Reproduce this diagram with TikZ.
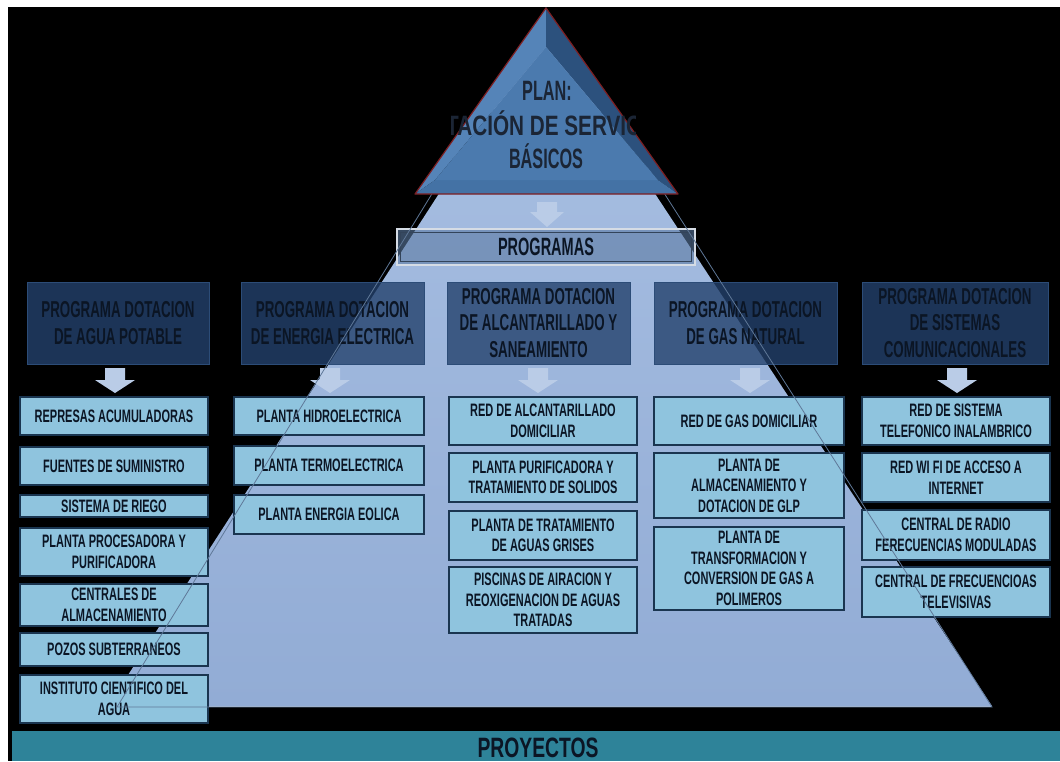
\documentclass[tikz,border=0pt]{standalone}
\usepackage{fontspec}
\newfontfamily\itemfont[FakeStretch=0.61]{Liberation Sans}
\newfontfamily\hdrfont[FakeStretch=0.58]{Liberation Sans}
\newfontfamily\widefont[FakeStretch=0.74]{Liberation Sans}
\newfontfamily\barfont[FakeStretch=0.69]{Liberation Sans}
\definecolor{pyrtop}{HTML}{A9C0E3}
\definecolor{pyrbot}{HTML}{92ACD5}
\definecolor{itemfill}{HTML}{8FC4DE}
\definecolor{itemline}{HTML}{1A3550}
\definecolor{hdrfill}{HTML}{24426D}
\definecolor{hdrline}{HTML}{2C4C77}
\definecolor{arrowfill}{HTML}{BACCE7}
\definecolor{ghost}{HTML}{5F7898}
\definecolor{barfill}{HTML}{2E8399}
\definecolor{txt}{HTML}{0B1524}
\definecolor{tritxt}{HTML}{1B2535}
\definecolor{leftbev}{HTML}{5584B8}
\definecolor{rightbev}{HTML}{2C517D}
\definecolor{botbev}{HTML}{4472A5}
\definecolor{face}{HTML}{4B7AAE}
\definecolor{redline}{HTML}{7D1F22}
\definecolor{progfill}{HTML}{5B7AA3}
\definecolor{progouter}{HTML}{D5DCE5}
\definecolor{proginner}{HTML}{33445A}
\begin{document}
\begin{tikzpicture}[x=1pt,y=-1pt,
  itembox/.style={draw=itemline, line width=1.3pt, fill=itemfill, align=center,
    inner sep=0pt, text=txt, font=\itemfont\bfseries\fontsize{18}{20.5}\selectfont},
  ibox/.style 2 args={itembox, minimum width=#1pt, minimum height=#2pt},
  hdrbox/.style={draw=hdrline, line width=0.8pt, fill=hdrfill, fill opacity=0.8,
    text opacity=1, align=center, inner sep=0pt, text=txt,
    minimum height=82pt, font=\hdrfont\bfseries\fontsize{23}{26.5}\selectfont},
  tritext/.style={anchor=base, text=tritxt, inner sep=0pt,
    font=\hdrfont\bfseries\fontsize{28}{34}\selectfont},
  downarrow/.pic={\fill[arrowfill] (-10,0) -- (10,0) -- (10,12) -- (20,12)
    -- (0,25) -- (-20,12) -- (-10,12) -- cycle;},
  toparrow/.pic={\fill[arrowfill] (-10,0) -- (10,0) -- (10,10) -- (17,10)
    -- (0,25) -- (-17,10) -- (-10,10) -- cycle;}
]
\useasboundingbox (0,0) rectangle (1060,761);
\fill[white] (0,0) rectangle (1060,761);
\fill[black] (8,7) rectangle (1060,761);

% light pyramid
\coordinate (pA) at (546,28);
\coordinate (pL) at (108,706);
\coordinate (pR) at (992,706);
\shade[top color=pyrtop, bottom color=pyrbot] (pA) -- (pL) -- (pR) -- cycle;
\draw[pyrtop!70!white, line width=0.8pt] (pL) -- (pR);

% bottom bar
\fill[barfill] (12,731) rectangle (1060,761);
\node[anchor=base, inner sep=0pt, text=txt,
  font=\barfont\bfseries\fontsize{28}{28}\selectfont] (proy) at (538,757) {PROYECTOS};

% PROGRAMAS box
\node[draw=progouter, line width=1.5pt, fill=progfill, fill opacity=0.6, text opacity=1,
  minimum width=298pt, minimum height=36pt, inner sep=0pt, text=txt,
  font=\hdrfont\bfseries\fontsize{25}{25}\selectfont] (prog) at (546,247)
  {PROGRAMAS};
\draw[proginner, line width=0.8pt] ([shift={(4,4)}]prog.north west) rectangle ([shift={(-4,-4)}]prog.south east);

% program headers
\node[hdrbox, minimum width=182pt] (h1) at (118,323) {PROGRAMA DOTACION\\DE AGUA POTABLE};
\node[hdrbox, minimum width=183pt] (h2) at (332.5,323) {PROGRAMA DOTACION\\DE ENERGIA ELECTRICA};
\node[hdrbox, minimum width=183pt] (h3) at (538.5,323) {PROGRAMA DOTACION\\DE ALCANTARILLADO Y\\SANEAMIENTO};
\node[hdrbox, minimum width=183pt] (h4) at (745.5,323) {PROGRAMA DOTACION\\DE GAS NATURAL};
\node[hdrbox, minimum width=186pt] (h5) at (955,323) {PROGRAMA DOTACION\\DE SISTEMAS\\COMUNICACIONALES};

% arrows under headers
\pic at (115,368) {downarrow};
\pic at (330,368) {downarrow};
\pic at (538,368) {downarrow};
\pic at (750,368) {downarrow};
\pic at (957,368) {downarrow};

% column 1
\node[ibox={188}{38}] (a1) at (114,416) {REPRESAS ACUMULADORAS};
\node[ibox={188}{38}] (a2) at (114,466) {FUENTES DE SUMINISTRO};
\node[ibox={188}{22}] (a3) at (114,506) {SISTEMA DE RIEGO};
\node[ibox={188}{48}] (a4) at (114,552) {PLANTA PROCESADORA Y\\PURIFICADORA};
\node[ibox={188}{42}] (a5) at (114,605) {CENTRALES DE\\ALMACENAMIENTO};
\node[ibox={188}{33}] (a6) at (114,649.5) {POZOS SUBTERRANEOS};
\node[ibox={188}{48}] (a7) at (114,699) {INSTITUTO CIENTIFICO DEL\\AGUA};

% column 2
\node[ibox={190}{38}] (b1) at (329,416) {PLANTA HIDROELECTRICA};
\node[ibox={190}{39}] (b2) at (329,465.5) {PLANTA TERMOELECTRICA};
\node[ibox={190}{39}] (b3) at (329,514.5) {PLANTA ENERGIA EOLICA};

% column 3
\node[ibox={188}{48}] (c1) at (543,421) {RED DE ALCANTARILLADO\\DOMICILIAR};
\node[ibox={188}{49}] (c2) at (543,477.5) {PLANTA PURIFICADORA Y\\TRATAMIENTO DE SOLIDOS};
\node[ibox={188}{49}] (c3) at (543,535.5) {PLANTA DE TRATAMIENTO\\DE AGUAS GRISES};
\node[ibox={188}{66}] (c4) at (543,600) {PISCINAS DE AIRACION Y\\REOXIGENACION DE AGUAS\\TRATADAS};

% column 4
\node[ibox={190}{48}] (d1) at (749,421) {RED DE GAS DOMICILIAR};
\node[ibox={190}{65}] (d2) at (749,485.5) {PLANTA DE\\ALMACENAMIENTO Y\\DOTACION DE GLP};
\node[ibox={190}{83}] (d3) at (749,568.5) {PLANTA DE\\TRANSFORMACION Y\\CONVERSION DE GAS A\\POLIMEROS};

% column 5
\node[ibox={188}{48}] (e1) at (956,421) {RED DE SISTEMA\\TELEFONICO INALAMBRICO};
\node[ibox={188}{49}] (e2) at (956,477.5) {RED WI FI DE ACCESO A\\INTERNET};
\node[ibox={188}{50}] (e3) at (956,535) {CENTRAL DE RADIO\\FERECUENCIAS MODULADAS};
\node[ibox={188}{50}] (e4) at (956,592) {CENTRAL DE FRECUENCIOAS\\TELEVISIVAS};

% ghost outline of pyramid
\coordinate (gA) at (546,8);
\coordinate (gL) at (117,707);
\coordinate (gR) at (992,707);
\draw[ghost, line width=0.8pt] (gA) -- (gL) -- (gR) -- cycle;

% top triangle with bevels
\coordinate (tA) at (546,8);
\coordinate (tL) at (415,194);
\coordinate (tR) at (678,194);
\coordinate (ia) at (546,47);
\coordinate (il) at (435,180);
\coordinate (ir) at (658,180);
\fill[leftbev] (tA) -- (tL) -- (il) -- (ia) -- cycle;
\fill[rightbev] (tA) -- (ia) -- (ir) -- (tR) -- cycle;
\fill[botbev] (tL) -- (tR) -- (ir) -- (il) -- cycle;
\fill[face] (ia) -- (il) -- (ir) -- cycle;
\draw[redline, line width=1.2pt, line join=round] (tA) -- (tL) -- (tR) -- cycle;

\begin{scope}
\clip (451,60) rectangle (635,180);
\node[tritext] (plan) at (547,100) {PLAN:};
\node[tritext, font=\widefont\bfseries\fontsize{28}{34}\selectfont] (dot) at (546,135) {DOTACIÓN DE SERVICIOS};
\node[tritext] (bas) at (546,168) {BÁSICOS};
\end{scope}

% arrow under triangle
\pic at (547,202) {toparrow};
\end{tikzpicture}
\end{document}
